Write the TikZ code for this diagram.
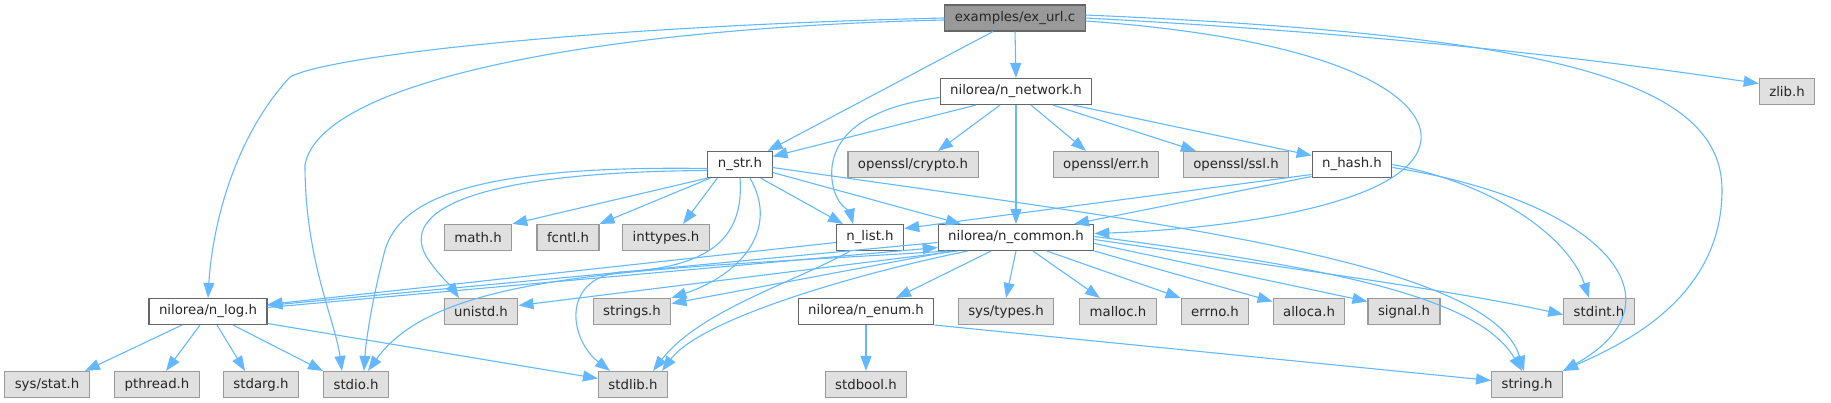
\documentclass[tikz,border=0pt]{standalone}
\usepackage{fontspec}
\setmainfont{DejaVu Sans}
\usetikzlibrary{arrows.meta}

\definecolor{arco}{HTML}{63B8FF}
\definecolor{bordo}{HTML}{666666}
\definecolor{bordoext}{HTML}{999999}
\definecolor{fondoext}{HTML}{E0E0E0}
\definecolor{fondoradice}{HTML}{999999}

\tikzset{
  scatola/.style={draw, line width=1.1pt, minimum height=26pt, inner xsep=10pt, inner ysep=0pt,
    font=\fontsize{13.3}{15}\selectfont, text=black!85},
  radice/.style={scatola, draw=bordo, fill=fondoradice},
  doc/.style={scatola, draw=bordo, fill=white},
  esterno/.style={scatola, draw=bordoext, fill=fondoext},
  dip/.style={draw=arco, line width=1.1pt, -{Triangle[length=15pt,width=11pt]}}
}

\begin{document}
\begin{tikzpicture}[x=1pt,y=-1pt]
            \useasboundingbox (0,0) rectangle (1831,403);

            % Nodo radice
            \node[radice] (exurl) at (1015,18) {examples/ex\_url.c};

            % Riga 2
            \node[doc] (network) at (1016,91.5) {nilorea/n\_network.h};
            \node[esterno] (zlib) at (1787,91.5) {zlib.h};

            % Riga 3
            \node[doc] (nstr) at (740,164.5) {n\_str.h};
            \node[esterno] (crypto) at (913,164.5) {openssl/crypto.h};
            \node[esterno] (err) at (1106,164.5) {openssl/err.h};
            \node[esterno] (ssl) at (1236,164.5) {openssl/ssl.h};
            \node[doc] (nhash) at (1352,164.5) {n\_hash.h};

            % Riga 4
            \node[esterno] (math) at (478,237.5) {math.h};
            \node[esterno] (fcntl) at (568,237.5) {fcntl.h};
            \node[esterno] (inttypes) at (666,237.5) {inttypes.h};
            \node[doc] (nlist) at (870,237.5) {n\_list.h};
            \node[doc] (common) at (1016,237.5) {nilorea/n\_common.h};

            % Riga 5
            \node[doc] (nlog) at (208,311.5) {nilorea/n\_log.h};
            \node[esterno] (unistd) at (481,311.5) {unistd.h};
            \node[esterno] (strings) at (632,311.5) {strings.h};
            \node[doc] (nenum) at (866,311.5) {nilorea/n\_enum.h};
            \node[esterno] (systypes) at (1006,311.5) {sys/types.h};
            \node[esterno] (malloc) at (1118,311.5) {malloc.h};
            \node[esterno] (errno) at (1215,311.5) {errno.h};
            \node[esterno] (alloca) at (1309,311.5) {alloca.h};
            \node[esterno] (signal) at (1404,311.5) {signal.h};
            \node[esterno] (stdint) at (1599,311.5) {stdint.h};

            % Riga 6
            \node[esterno] (sysstat) at (47,384.5) {sys/stat.h};
            \node[esterno] (pthread) at (157,384.5) {pthread.h};
            \node[esterno] (stdarg) at (261,384.5) {stdarg.h};
            \node[esterno] (stdio) at (356,384.5) {stdio.h};
            \node[esterno] (stdlib) at (633,384.5) {stdlib.h};
            \node[esterno] (stdbool) at (866,384.5) {stdbool.h};
            \node[esterno] (string) at (1527,384.5) {string.h};

            % Archi da examples/ex_url.c
            \draw[dip] (exurl.west) .. controls (600,26) and (330,55) .. (290,77) .. controls (232,140) and (212,230) .. (nlog.north);
            \draw[dip] ([yshift=-2pt]exurl.west) .. controls (600,28) and (320,80) .. (305,165) .. controls (305,260) and (335,320) .. ([xshift=-14pt]stdio.north);
            \draw[dip] ([xshift=-22pt]exurl.south) -- ([xshift=-5pt]nstr.north east);
            \draw[dip] (exurl.south) -- (network.north);
            \draw[dip] ([yshift=-3pt]exurl.east) .. controls (1350,40) and (1425,100) .. (1421,140) .. controls (1415,200) and (1250,228) .. ([yshift=4pt]common.east);
            \draw[dip] (exurl.east) .. controls (1400,35) and (1600,60) .. ([yshift=8pt]zlib.west);
            \draw[dip] ([yshift=3pt]exurl.east) .. controls (1550,35) and (1722,80) .. (1722,190) .. controls (1722,300) and (1620,345) .. (string.north east);

            % Archi da nilorea/n_network.h
            \draw[dip] ([xshift=-40pt]network.south) -- ([yshift=8pt]nstr.east);
            \draw[dip] ([xshift=-16pt]network.south) -- ([xshift=25pt]crypto.north);
            \draw[dip] ([xshift=15pt]network.south) -- ([xshift=-20pt]err.north);
            \draw[dip] ([xshift=37pt]network.south) -- ([xshift=-40pt]ssl.north);
            \draw[dip] ([xshift=57pt]network.south) -- ([yshift=9pt]nhash.west);
            \draw[dip] (network.south) -- (common.north);
            \draw[dip] ([yshift=-6pt]network.west) .. controls (860,108) and (828,140) .. (832,180) .. controls (835,205) and (850,212) .. ([xshift=-17pt]nlist.north);

            % Archi da n_str.h
            \draw[dip] (nstr.south west) -- (math.north east);
            \draw[dip] ([xshift=3pt]nstr.south west) -- (fcntl.north east);
            \draw[dip] ([xshift=10pt]nstr.south west) -- ([xshift=17pt]inttypes.north);
            \draw[dip] ([xshift=-12pt]nstr.south east) -- ([xshift=-27pt]nlist.north);
            \draw[dip] ([yshift=-8pt]nstr.east) -- ([xshift=-55pt]common.north);
            \draw[dip] ([yshift=-3pt]nstr.east) .. controls (1150,222) and (1490,260) .. ([xshift=-3pt]string.north);
            \draw[dip] ([yshift=-4pt]nstr.west) .. controls (470,165) and (400,200) .. (385,250) .. controls (372,300) and (366,340) .. ([xshift=8pt]stdio.north);
            \draw[dip] ([yshift=-6pt]nstr.west) .. controls (460,172) and (395,215) .. (430,262) .. controls (440,276) and (450,285) .. ([xshift=-22pt]unistd.north);
            \draw[dip] ([xshift=10pt]nstr.south) .. controls (780,230) and (740,275) .. (strings.north east);
            \draw[dip] (nstr.south) .. controls (745,245) and (700,268) .. (620,272) .. controls (560,280) and (570,340) .. ([xshift=-23pt]stdlib.north);

            % Archi da n_hash.h
            \draw[dip] ([yshift=-10pt]nhash.west) -- ([yshift=9pt]nlist.east);
            \draw[dip] ([yshift=-12pt]nhash.west) -- ([xshift=58pt]common.north);
            \draw[dip] (nhash.east) .. controls (1500,185) and (1570,240) .. ([xshift=-10pt]stdint.north);
            \draw[dip] ([yshift=-3pt]nhash.east) .. controls (1600,200) and (1690,300) .. (string.north east);

            % Archi da nilorea/n_common.h
            \draw[dip] ([yshift=-5pt]common.west) -- ([yshift=6pt]nlog.east);
            \draw[dip] ([xshift=20pt]common.south west) -- ([yshift=6pt]unistd.east);
            \draw[dip] ([xshift=14pt]common.south west) -- ([yshift=8pt]strings.east);
            \draw[dip] ([xshift=10pt]common.south west) .. controls (650,270) and (440,270) .. ([xshift=12pt]stdio.north);
            \draw[dip] ([xshift=30pt]common.south west) .. controls (850,275) and (700,320) .. ([xshift=29pt]stdlib.north);
            \draw[dip] ([xshift=-25pt]common.south) -- ([xshift=30pt]nenum.north);
            \draw[dip] (common.south) -- (systypes.north);
            \draw[dip] ([xshift=17pt]common.south) -- ([xshift=-18pt]malloc.north);
            \draw[dip] ([xshift=31pt]common.south) -- (errno.north west);
            \draw[dip] (common.south east) -- ([yshift=10pt]alloca.west);
            \draw[dip] ([yshift=-6pt]common.east) -- ([yshift=10pt]signal.west);
            \draw[dip] ([yshift=-2pt]common.east) .. controls (1300,270) and (1450,290) .. ([yshift=-3pt]stdint.west);
            \draw[dip] ([yshift=1pt]common.east) .. controls (1350,270) and (1480,300) .. ([xshift=-5pt]string.north);

            % Archi da n_list.h
            \draw[dip] ([yshift=-5pt]nlist.west) -- ([yshift=7pt]nlog.east);
            \draw[dip] ([xshift=-20pt]nlist.south) .. controls (800,280) and (700,310) .. ([xshift=20pt]stdlib.north);

            % Archi da nilorea/n_log.h
            \draw[dip] ([xshift=-26pt]nlog.south) -- ([xshift=38pt]sysstat.north);
            \draw[dip] ([xshift=-8pt]nlog.south) -- ([xshift=9pt]pthread.north);
            \draw[dip] ([xshift=9pt]nlog.south) -- ([xshift=-16pt]stdarg.north);
            \draw[dip] ([xshift=25pt]nlog.south) -- ([xshift=-33pt]stdio.north);
            \draw[dip] ([yshift=-12pt]nlog.east) -- ([yshift=6pt]stdlib.west);
            \draw[dip] ([yshift=4pt]nlog.east) -- ([yshift=-10pt]common.west);

            % Archi da nilorea/n_enum.h
            \draw[dip] (nenum.south) -- (stdbool.north);
            \draw[dip] (nenum.south east) -- ([yshift=4pt]string.west);
        \end{tikzpicture}
\end{document}
